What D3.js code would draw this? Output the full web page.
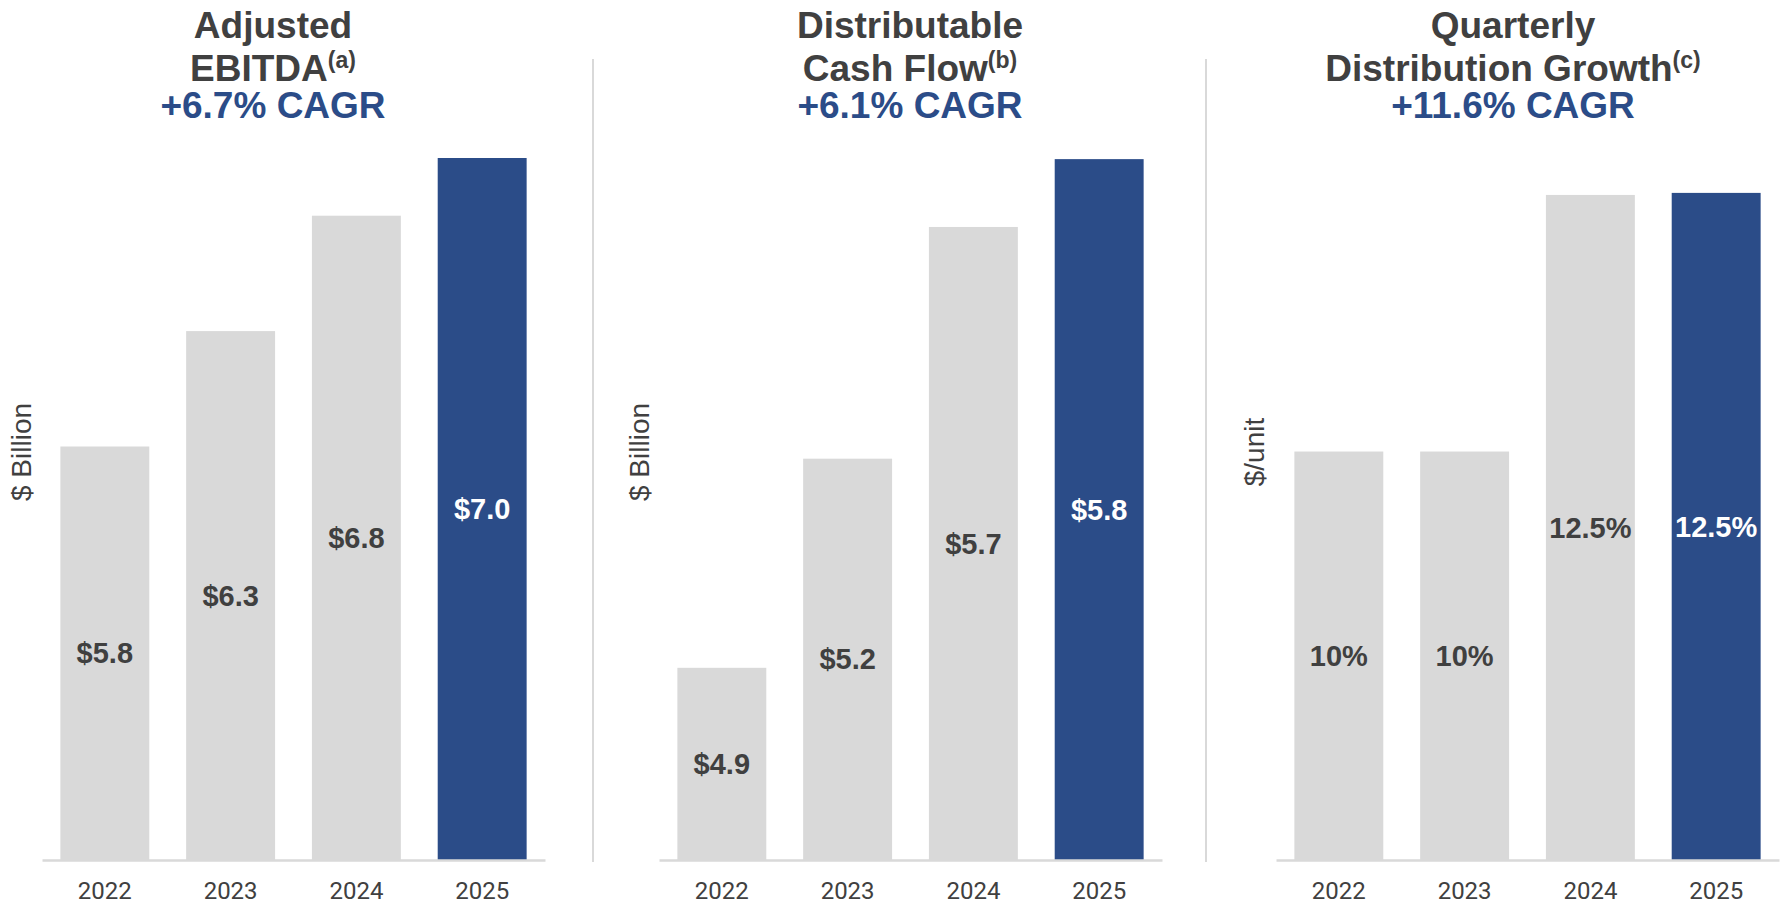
<!DOCTYPE html>
<html>
<head>
<meta charset="utf-8">
<script src="https://cdn.jsdelivr.net/npm/d3@7"></script>
<style>
  html, body { margin: 0; padding: 0; background: #fff; }
  svg { display: block; }
</style>
</head>
<body>
<svg width="1781" height="904"></svg>
<script>
// data
const years = ['2022', '2023', '2024', '2025'];

const ebitda = [5.8, 6.28, 6.76, 7.0];
const ebitdaLabels = ['$5.8', '$6.3', '$6.8', '$7.0'];

const cashFlow = [4.86, 5.23, 5.64, 5.76];
const cashFlowLabels = ['$4.9', '$5.2', '$5.7', '$5.8'];

const distGrowth = [10, 10, 12.5, 12.52];
const distGrowthLabels = ['10%', '10%', '12.5%', '12.5%'];

const titleLines = [
  ['Adjusted', 'EBITDA'],
  ['Distributable', 'Cash Flow'],
  ['Quarterly', 'Distribution Growth']
];
const footnotes = ['(a)', '(b)', '(c)'];
const cagrLabels = ['+6.7% CAGR', '+6.1% CAGR', '+11.6% CAGR'];
const axisTitles = ['$ Billion', '$ Billion', '$/unit'];
// value axis does not start at zero on the slide
const yDomains = [[4.08, 7.0], [4.52, 5.762], [6.02, 12.86]];

const panels = [
  { values: ebitda, labels: ebitdaLabels },
  { values: cashFlow, labels: cashFlowLabels },
  { values: distGrowth, labels: distGrowthLabels }
].map((p, i) => ({
  ...p,
  title: titleLines[i],
  note: footnotes[i],
  cagr: cagrLabels[i],
  axisTitle: axisTitles[i],
  domain: yDomains[i]
}));

const gray = '#d9d9d9';
const blue = '#2b4c88';
const textColor = '#404040';

const baseline = 860;
const plotTop = 158;
const panelLeft = [42, 659, 1276];
const panelWidth = 503;
const titleX = [273, 910, 1513];
const axisTitleX = [31, 649, 1264];
const separators = [593, 1206];

const svg = d3.select('svg');

svg
  .selectAll('line.sep')
  .data(separators)
  .enter()
  .append('line')
  .attr('class', 'sep')
  .attr('x1', d => d)
  .attr('x2', d => d)
  .attr('y1', 59)
  .attr('y2', 862)
  .attr('stroke', gray)
  .attr('stroke-width', 2);

panels.forEach((p, i) => {
  const xScale = d3
    .scaleBand()
    .domain(years)
    .range([panelLeft[i], panelLeft[i] + panelWidth])
    .paddingInner(0.293)
    .paddingOuter(0.146);

  const yScale = d3
    .scaleLinear()
    .domain(p.domain)
    .range([baseline, plotTop]);

  const g = svg.append('g').attr('class', 'panel');
  const rows = years.map((y, j) => ({ year: y, value: p.values[j], label: p.labels[j], last: j === years.length - 1 }));

  g.selectAll('rect')
    .data(rows)
    .enter()
    .append('rect')
    .attr('x', d => xScale(d.year))
    .attr('y', d => yScale(d.value))
    .attr('width', xScale.bandwidth())
    .attr('height', d => baseline - yScale(d.value))
    .attr('fill', d => (d.last ? blue : gray));

  g.selectAll('text.val')
    .data(rows)
    .enter()
    .append('text')
    .attr('class', 'val')
    .attr('x', d => xScale(d.year) + xScale.bandwidth() / 2)
    .attr('y', d => (yScale(d.value) + baseline) / 2)
    .attr('dy', '0.35em')
    .attr('text-anchor', 'middle')
    .attr('font-family', 'Liberation Sans, Arial, sans-serif')
    .attr('font-weight', 'bold')
    .attr('font-size', 29)
    .attr('fill', d => (d.last ? '#fff' : textColor))
    .text(d => d.label);

  const xAxis = d3.axisBottom(xScale).tickSize(0).tickSizeOuter(0);
  const axisG = g
    .append('g')
    .attr('transform', `translate(0, ${baseline})`)
    .call(xAxis);
  axisG.select('.domain').attr('stroke', gray).attr('stroke-width', 2.5);
  axisG
    .selectAll('.tick text')
    .attr('y', 39)
    .attr('dy', 0)
    .attr('font-family', 'Roboto, sans-serif')
    .attr('font-size', 24)
    .attr('fill', textColor);

  g.append('text')
    .attr('transform', `translate(${axisTitleX[i]}, 452) rotate(-90)`)
    .attr('text-anchor', 'middle')
    .attr('font-family', 'Liberation Sans, Arial, sans-serif')
    .attr('font-size', 28)
    .attr('fill', textColor)
    .text(p.axisTitle);

  const title = g
    .append('g')
    .attr('font-family', 'Liberation Sans, Arial, sans-serif')
    .attr('font-weight', 'bold')
    .attr('text-anchor', 'middle');

  title
    .append('text')
    .attr('x', titleX[i])
    .attr('y', 38)
    .attr('font-size', 37)
    .attr('fill', textColor)
    .text(p.title[0]);

  const line2 = title
    .append('text')
    .attr('x', titleX[i])
    .attr('y', 81)
    .attr('font-size', 37)
    .attr('fill', textColor);
  line2.append('tspan').text(p.title[1]);
  line2
    .append('tspan')
    .attr('font-size', 23)
    .attr('dy', -13)
    .text(p.note);

  title
    .append('text')
    .attr('x', titleX[i])
    .attr('y', 118)
    .attr('font-size', 37)
    .attr('fill', blue)
    .text(p.cagr);
});
</script>
</body>
</html>
